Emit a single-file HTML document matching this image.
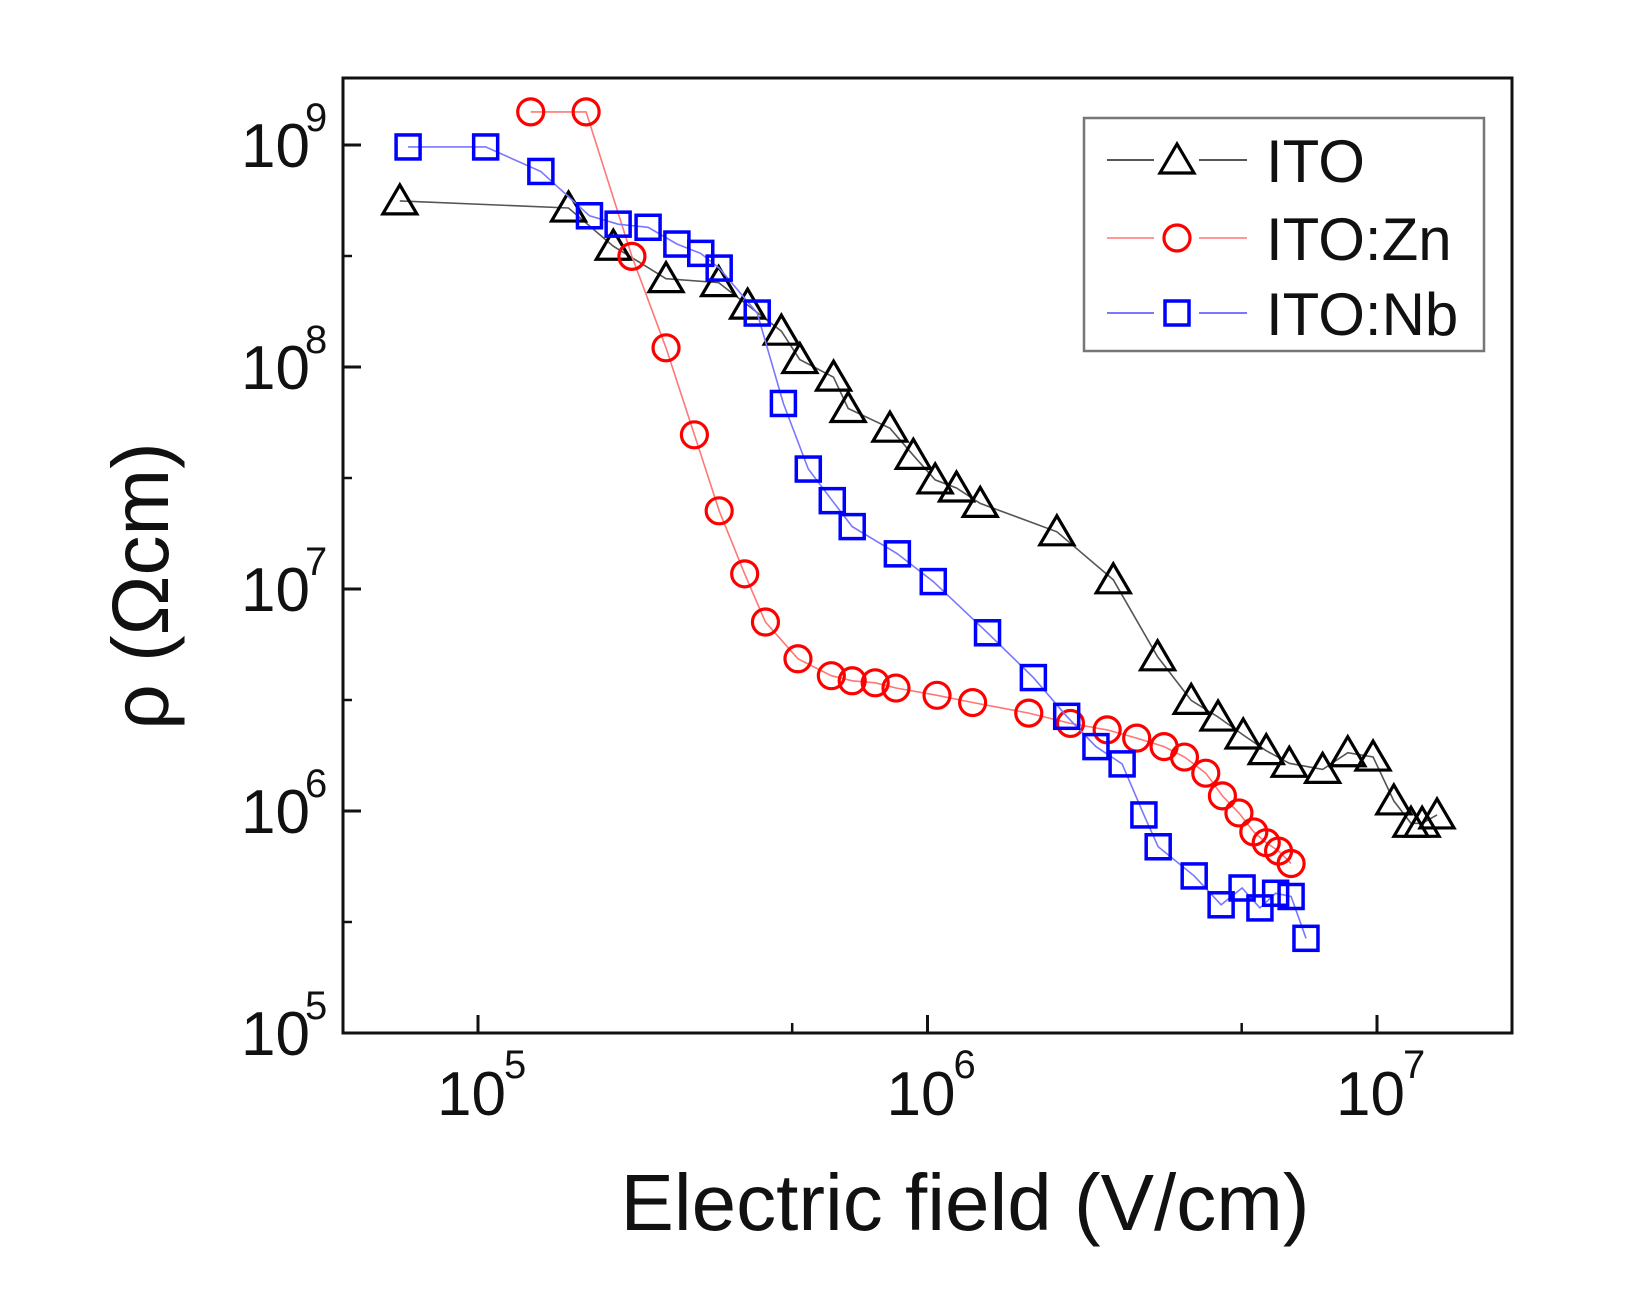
<!DOCTYPE html>
<html><head><meta charset="utf-8"><style>
html,body{margin:0;padding:0;background:#fff;}
svg{display:block;font-family:"Liberation Sans",Arial,sans-serif;}
</style></head><body>
<svg id="chart" width="1637" height="1292" viewBox="0 0 1637 1292" xmlns="http://www.w3.org/2000/svg">
<rect x="0" y="0" width="1637" height="1292" fill="#fff"/>
<g id="series"></g>
<g id="axes"></g>
</svg>
<script>
const itoX=[6.7e4,1.59e5,2.0e5,2.62e5,3.43e5,3.98e5,4.73e5,5.2e5,6.18e5,6.66e5,8.25e5,9.3e5,1.04e6,1.16e6,1.31e6,1.94e6,2.59e6,3.25e6,3.86e6,4.43e6,5.04e6,5.67e6,6.38e6,7.57e6,8.61e6,9.8e6,1.09e7,1.19e7,1.26e7,1.36e7];
const itoY=[5.6e8,5.2e8,3.5e8,2.5e8,2.4e8,1.9e8,1.45e8,1.08e8,9e7,6.5e7,5.3e7,4.0e7,3.1e7,2.85e7,2.43e7,1.81e7,1.1e7,4.95e6,3.15e6,2.65e6,2.2e6,1.87e6,1.64e6,1.54e6,1.83e6,1.75e6,1.11e6,8.8e5,8.8e5,9.6e5];
const znX=[1.31e5,1.74e5,2.2e5,2.62e5,3.03e5,3.44e5,3.92e5,4.36e5,5.15e5,6.11e5,6.8e5,7.65e5,8.51e5,1.05e6,1.26e6,1.68e6,2.08e6,2.51e6,2.92e6,3.36e6,3.73e6,4.16e6,4.53e6,4.93e6,5.32e6,5.67e6,6.04e6,6.44e6];
const znY=[1.41e9,1.41e9,3.15e8,1.22e8,4.95e7,2.25e7,1.17e7,7.1e6,4.85e6,4.07e6,3.86e6,3.78e6,3.58e6,3.32e6,3.08e6,2.76e6,2.48e6,2.32e6,2.13e6,1.95e6,1.75e6,1.48e6,1.17e6,9.8e5,8.05e5,7.2e5,6.6e5,5.8e5];
const nbX=[6.99e4,1.04e5,1.38e5,1.77e5,2.05e5,2.39e5,2.77e5,3.13e5,3.44e5,4.18e5,4.78e5,5.43e5,6.14e5,6.8e5,8.57e5,1.03e6,1.36e6,1.72e6,2.04e6,2.37e6,2.71e6,3.03e6,3.26e6,3.92e6,4.5e6,5.01e6,5.49e6,5.95e6,6.44e6,6.95e6];
const nbY=[9.8e8,9.8e8,7.6e8,4.8e8,4.4e8,4.26e8,3.58e8,3.25e8,2.79e8,1.75e8,6.85e7,3.47e7,2.5e7,1.91e7,1.44e7,1.08e7,6.35e6,3.99e6,2.67e6,1.95e6,1.63e6,9.6e5,6.9e5,5.1e5,3.78e5,4.5e5,3.66e5,4.26e5,4.12e5,2.67e5];
const xTicks=[5,6,7];
const yTicks=[5,6,7,8,9];

const NS="http://www.w3.org/2000/svg";
const L=343,R=1512,T=78,B=1033;
function sx(v){return 478+(Math.log10(v)-5)*449.5;}
function sy(v){return 145+(9-Math.log10(v))*222;}
function mk(tag,attrs,parent){const e=document.createElementNS(NS,tag);for(const k in attrs)e.setAttribute(k,attrs[k]);parent.appendChild(e);return e;}
const S=document.getElementById('series'),A=document.getElementById('axes');

function marker(type,x,y,color,parent){
  let e;
  if(type==='tri'){e=mk('polygon',{points:`${x},${y-16} ${x-17},${y+13} ${x+17},${y+13}`,fill:'none',stroke:color,'stroke-width':3.2},parent);}
  else if(type==='circ'){e=mk('circle',{cx:x,cy:y,r:13,fill:'none',stroke:color,'stroke-width':3.2},parent);}
  else {e=mk('rect',{x:x-12,y:y-12,width:24,height:24,fill:'none',stroke:color,'stroke-width':3.5},parent);}
  return e;
}
function series(xs,ys,type,color,lineColor,name){
  const g=mk('g',{},S);
  
  
  const pts=xs.map((v,i)=>sx(v).toFixed(1)+','+sy(ys[i]).toFixed(1)).join(' ');
  const pl=mk('polyline',{points:pts,fill:'none',stroke:lineColor,'stroke-width':1.6},g);
  
  
  xs.forEach((v,i)=>{
    const m=marker(type,sx(v),sy(ys[i]),color,g);
    
    
  });
}
series(itoX,itoY,'tri','#000','#555','ito');
series(znX,znY,'circ','#f00','#f77','ito-zn');
series(nbX,nbY,'sq','#00f','#77f','ito-nb');

const fr=mk('rect',{x:L,y:T,width:R-L,height:B-T,fill:'none',stroke:'#111','stroke-width':3},A);



xTicks.forEach(p=>{
  const x=sx(Math.pow(10,p));
  mk('line',{x1:x,y1:B,x2:x,y2:B-18,stroke:'#111','stroke-width':3},A);
  const t=mk('text',{x:x-41,y:1115,'font-size':62,fill:'#111'},A);
  t.textContent='10';
  
  
  const s=mk('text',{x:x+26,y:1078,'font-size':40,fill:'#111'},A);
  s.textContent=String(p);
  const mx=sx(5*Math.pow(10,p-1));
  if(mx>L) mk('line',{x1:mx,y1:B,x2:mx,y2:B-10,stroke:'#111','stroke-width':2.5},A);
});
yTicks.forEach(p=>{
  const y=sy(Math.pow(10,p));
  mk('line',{x1:L,y1:y,x2:L+18,y2:y,stroke:'#111','stroke-width':3},A);
  const t=mk('text',{x:241,y:y+22,'font-size':62,fill:'#111'},A);
  t.textContent='10';
  
  
  const s=mk('text',{x:305,y:y-14,'font-size':40,fill:'#111'},A);
  s.textContent=String(p);
  if(p<9){const my=y-111; mk('line',{x1:L,y1:my,x2:L+9,y2:my,stroke:'#111','stroke-width':2.5},A);}
});

const xt=mk('text',{x:965,y:1230,'font-size':80,'text-anchor':'middle',fill:'#111'},A);
xt.textContent='Electric field (V/cm)';


const yt=mk('text',{x:0,y:0,'font-size':80,'text-anchor':'middle',fill:'#111',transform:'translate(168,586) rotate(-90)'},A);
yt.textContent='ρ (Ωcm)';



const lg=mk('g',{},A);


mk('rect',{x:1084,y:118,width:400,height:233,fill:'#fff',stroke:'#777','stroke-width':2.5},lg);
const legNames=['ITO','ITO:Zn','ITO:Nb'];
const legTypes=['tri','circ','sq'];
const legCols=['#000','#f00','#00f'];
const legLines=['#555','#f99','#77f'];
[160,238,313].forEach((y,i)=>{
  const e=mk('g',{},lg);
  
  
  mk('line',{x1:1107,y1:y,x2:1154,y2:y,stroke:legLines[i],'stroke-width':2},e);
  mk('line',{x1:1199,y1:y,x2:1247,y2:y,stroke:legLines[i],'stroke-width':2},e);
  marker(legTypes[i],1177,y,legCols[i],e);
  const t=mk('text',{x:1266,y:y+22,'font-size':60,fill:'#111'},e);
  t.textContent=legNames[i];
});
</script>
</body></html>
